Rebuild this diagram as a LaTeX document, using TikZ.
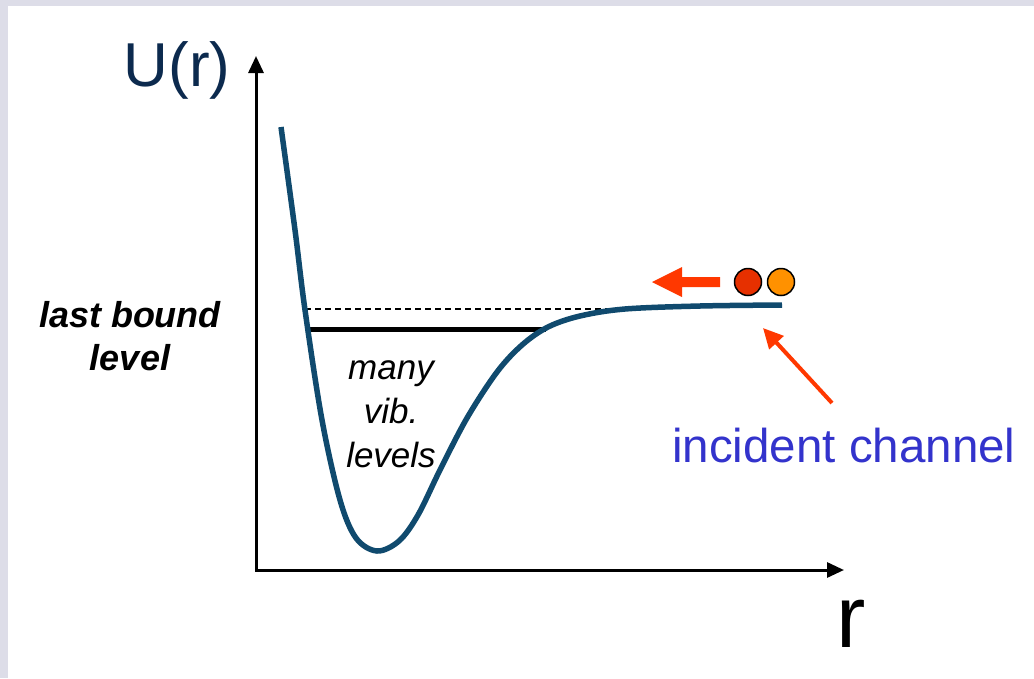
\documentclass[tikz,border=0pt]{standalone}
\usepackage{fontspec}
\setmainfont{Liberation Sans}
\usetikzlibrary{arrows.meta}

\definecolor{slidebg}{RGB}{221,221,232}
\definecolor{wellblue}{RGB}{16,74,110}
\definecolor{labelnavy}{RGB}{12,42,78}
\definecolor{chanblue}{RGB}{51,51,204}
\definecolor{hotred}{RGB}{255,56,0}
\definecolor{atomred}{RGB}{230,48,0}
\definecolor{atomorange}{RGB}{255,145,0}

\begin{document}
\begin{tikzpicture}[
    x=1pt, y=-1pt,
    axis/.style={line width=3pt, {Triangle[length=17pt,width=15pt]}-{Triangle[length=17pt,width=15pt]}},
    atom/.style={circle, draw=black, line width=1.5pt, fill=#1, minimum size=27pt, inner sep=0pt},
    lbl/.style={align=center, inner sep=0pt}
]

\def\yLast{329}   % last bound level
\def\yThr{309}    % dissociation threshold

% ── Slide background ─────────────────────────────────────────────────────────
\fill[slidebg] (0,0) rectangle (1034,678);
\fill[white] (8,6) rectangle (1034,678);
\useasboundingbox (0,0) rectangle (1034,678);

% ── Axes ─────────────────────────────────────────────────────────────────────
\coordinate (O) at (256,570);
\coordinate (ytip) at (256,56);
\coordinate (xtip) at (844,570);
\draw[axis] (ytip) -- (O) -- (xtip);

\node[text=labelnavy, font=\fontsize{62}{62}\selectfont, anchor=base] (ulab) at (177,86) {U(r)};
\node[font=\fontsize{88}{88}\selectfont, anchor=base] (rlab) at (851,647) {r};

% ── Threshold and last bound level ───────────────────────────────────────────
\coordinate (thrL) at (305,\yThr);
\coordinate (thrR) at (612,\yThr);
\draw[line width=1.2pt, dash pattern=on 6pt off 4pt] (thrL) -- (thrR);

\coordinate (lastL) at (308,\yLast);
\coordinate (lastR) at (546,\yLast);
\draw[line width=5pt] (lastL) -- (lastR);

% ── Potential well ───────────────────────────────────────────────────────────
\draw[wellblue, line width=5.5pt] plot[smooth, tension=0.55] coordinates {
    (281,127) (295,230) (305,310) (322,420) (340,500) (356,538) (377,551)
    (399,541) (418,515) (440,470) (467,418) (497,372) (522,345) (548,327)
    (580,316) (625,309) (700,306) (782,305)};

% ── Labels ───────────────────────────────────────────────────────────────────
\node[lbl, font=\fontsize{36}{43}\selectfont\bfseries\itshape] (lastlbl) at (130,336) {last bound\\level};
\node[lbl, font=\fontsize{35}{44}\selectfont\itshape] (viblbl) at (391,414) {many\\vib.\\levels};
\node[text=chanblue, font=\fontsize{47.5}{47.5}\selectfont, anchor=base west, inner sep=0pt] (chanlbl) at (672,462) {incident channel};

% ── Incoming atom pair ───────────────────────────────────────────────────────
\node[atom=atomred] (atomA) at (748,282) {};
\node[atom=atomorange] (atomB) at (781,282) {};
\fill[hotred] (720,277) -- (682,277) -- (682,267) -- (652,282) -- (682,297) -- (682,287) -- (720,287) -- cycle;

\coordinate (chtail) at (832,403);
\coordinate (chtip) at (763,328);
\draw[hotred, line width=4pt, -{Triangle[length=20pt,width=19pt]}] (chtail) -- (chtip);

\end{tikzpicture}
\end{document}
